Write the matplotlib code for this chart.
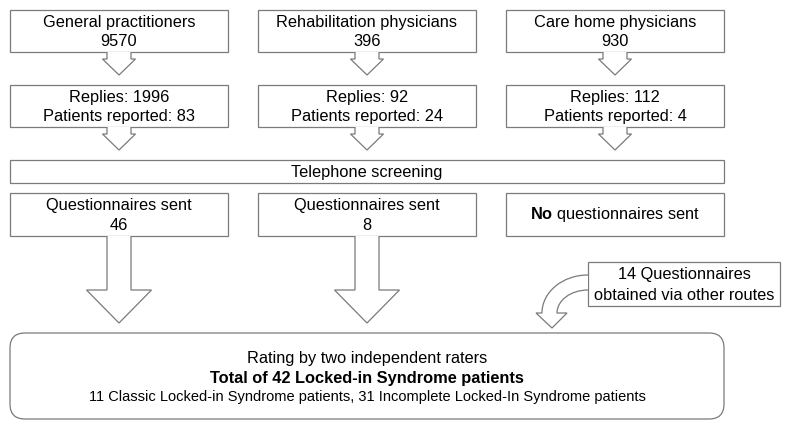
import matplotlib
matplotlib.use("Agg")
import matplotlib.pyplot as plt
from matplotlib.patches import Polygon, Rectangle, FancyBboxPatch, PathPatch
from matplotlib.path import Path

plt.rcParams['font.family'] = ['Liberation Sans', 'DejaVu Sans']
plt.rcParams['mathtext.fontset'] = 'custom'
plt.rcParams['mathtext.rm'] = 'Liberation Sans'
plt.rcParams['mathtext.bf'] = 'Liberation Sans:bold'

# --- data ---
sources = ["General practitioners", "Rehabilitation physicians", "Care home physicians"]
contacted = [9570, 396, 930]
replies = [1996, 92, 112]
reported = [83, 24, 4]
sent = [46, 8, 0]
other_routes = 14
total_lis = 42
classic_lis = 11
incomplete_lis = 31

EDGE = "#7a7a7a"
LW = 0.9
FS = 11.8

fig = plt.figure(figsize=(8, 4.29), dpi=100)
ax = fig.add_axes([0, 0, 1, 1])
ax.set_xlim(0, 800)
ax.set_ylim(429, 0)
ax.axis("off")


def box(x0, y0, x1, y1):
    ax.add_patch(Rectangle((x0, y0), x1 - x0, y1 - y0, facecolor="white",
                           edgecolor=EDGE, linewidth=LW, zorder=2))


def arrow(cx, y0, shaft_len, head_len, shaft_hw, head_hw):
    ys = y0 + shaft_len
    pts = [(cx - shaft_hw, y0), (cx - shaft_hw, ys), (cx - head_hw, ys),
           (cx, ys + head_len), (cx + head_hw, ys), (cx + shaft_hw, ys),
           (cx + shaft_hw, y0)]
    ax.add_patch(Polygon(pts, closed=False, facecolor="white", edgecolor=EDGE,
                         linewidth=LW, zorder=3))


col_x = [(10, 228), (258, 476), (506, 724)]

for i, (x0, x1) in enumerate(col_x):
    cx = (x0 + x1) / 2
    # row 1
    box(x0, 10, x1, 52)
    ax.text(cx, 22.5, sources[i], ha="center", va="center", fontsize=FS, zorder=4)
    ax.text(cx, 42, str(contacted[i]), ha="center", va="center", fontsize=FS, zorder=4)
    arrow(cx, 52, 7, 16, 12, 16.5)
    # row 2
    box(x0, 85, x1, 127)
    ax.text(cx, 97.5, f"Replies: {replies[i]}", ha="center", va="center", fontsize=FS, zorder=4)
    ax.text(cx, 117, f"Patients reported: {reported[i]}", ha="center", va="center",
            fontsize=FS, zorder=4)
    arrow(cx, 127, 7, 16, 12, 16.5)
    # row 3
    box(x0, 193, x1, 236)
    if sent[i] > 0:
        ax.text(cx, 205.5, "Questionnaires sent", ha="center", va="center", fontsize=FS, zorder=4)
        ax.text(cx, 225, str(sent[i]), ha="center", va="center", fontsize=FS, zorder=4)
        arrow(cx, 236, 54, 33, 12, 32.5)
    else:
        ax.text(cx, 214, r"$\mathbf{No}$ questionnaires sent", ha="center", va="center",
                fontsize=FS, zorder=4)

# telephone screening
box(10, 160, 724, 183)
ax.text(367, 172, "Telephone screening", ha="center", va="center", fontsize=FS, zorder=4)

# other routes box
box(588, 262, 780, 306)
ax.text(684, 275, f"{other_routes} Questionnaires", ha="center", va="center", fontsize=FS, zorder=4)
ax.text(684, 295, "obtained via other routes", ha="center", va="center", fontsize=FS, zorder=4)

# curved arrow
k = 0.5523
ocx, ocy = 588, 313
orx, ory = 46, 38
irx, iry = 31, 23
tip = (552, 328)
verts = [
    (ocx, ocy - ory),
    (ocx - k * orx, ocy - ory), (ocx - orx, ocy - k * ory), (ocx - orx, ocy),
    (536, ocy), tip, (567, ocy), (ocx - irx, ocy),
    (ocx - irx, ocy - k * iry), (ocx - k * irx, ocy - iry), (ocx, ocy - iry),
]
codes = [Path.MOVETO, Path.CURVE4, Path.CURVE4, Path.CURVE4,
         Path.LINETO, Path.LINETO, Path.LINETO, Path.LINETO,
         Path.CURVE4, Path.CURVE4, Path.CURVE4]
ax.add_patch(PathPatch(Path(verts, codes), facecolor="white", edgecolor=EDGE,
                       linewidth=LW, zorder=3))

# final rounded box
ax.add_patch(FancyBboxPatch((10, 333), 714, 86, boxstyle="round,pad=0,rounding_size=15",
                            facecolor="white", edgecolor=EDGE, linewidth=LW, zorder=2))
ax.text(367, 358, "Rating by two independent raters", ha="center", va="center",
        fontsize=FS, zorder=4)
ax.text(367, 378, f"Total of {total_lis} Locked-in Syndrome patients", ha="center",
        va="center", fontsize=FS, fontweight="bold", zorder=4)
ax.text(367, 397, f"{classic_lis} Classic Locked-in Syndrome patients, "
        f"{incomplete_lis} Incomplete Locked-In Syndrome patients",
        ha="center", va="center", fontsize=10.5, zorder=4)

fig.savefig("out.png", dpi=100)
